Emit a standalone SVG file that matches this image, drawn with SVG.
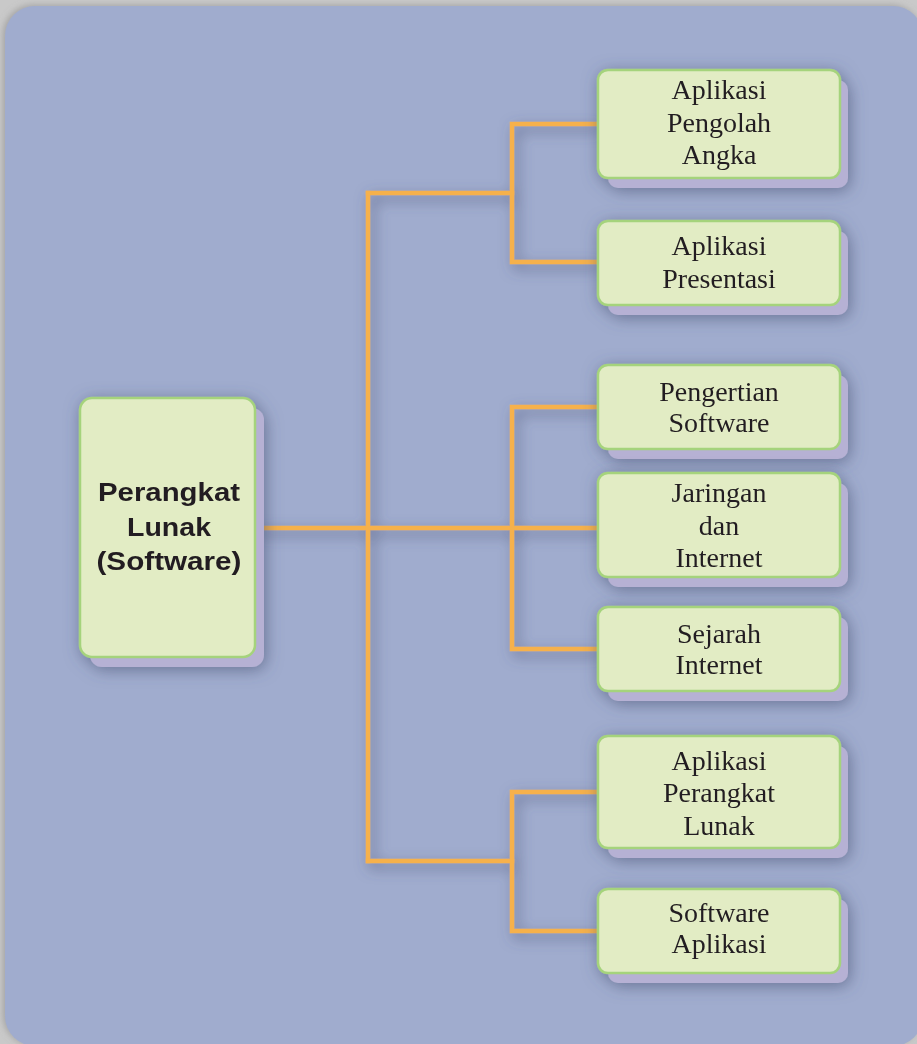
<svg xmlns="http://www.w3.org/2000/svg" width="917" height="1044" viewBox="0 0 917 1044">
<defs>
<filter id="bgsh" x="-5%" y="-5%" width="110%" height="110%">
<feDropShadow dx="-2" dy="-1" stdDeviation="3" flood-color="#8a8a8a" flood-opacity="0.6"/>
</filter>
<filter id="sh" x="-30%" y="-30%" width="160%" height="160%">
<feDropShadow dx="2" dy="3" stdDeviation="8" flood-color="#45506f" flood-opacity="0.6"/>
</filter>
<filter id="lsh" x="-30%" y="-30%" width="160%" height="160%">
<feDropShadow dx="4" dy="5" stdDeviation="7" flood-color="#45506f" flood-opacity="0.7"/>
</filter>
</defs>
<style>
.back{fill:#b6b1d4}
.box{fill:#e2ecc4;stroke:#a5d37c;stroke-width:2.5}
.lbl{font-family:"Liberation Serif","Times New Roman",serif;font-size:28px;fill:#231f20;text-anchor:middle}
.main{font-family:"Liberation Sans",Arial,sans-serif;font-weight:bold;font-size:26.5px;fill:#231f20;text-anchor:middle}
.ln{fill:none;stroke:#f6b14c;stroke-width:4.5;stroke-linecap:square}
</style>
<rect x="0" y="0" width="917" height="1044" fill="#c9c9c9"/>
<rect x="5" y="6" width="918" height="1040" rx="30" ry="30" fill="#a0acce" filter="url(#bgsh)"/>

<g id="connectors" filter="url(#lsh)">
<path class="ln" d="M257,528 H596"/>
<path class="ln" d="M368,193 V861"/>
<path class="ln" d="M368,193 H512"/>
<path class="ln" d="M596,124 H512 V262 H596"/>
<path class="ln" d="M596,407 H512 V649 H596"/>
<path class="ln" d="M368,861 H512"/>
<path class="ln" d="M596,792 H512 V931 H596"/>
</g>

<g id="node-main" filter="url(#sh)">
<rect class="back" x="90" y="408" width="174" height="259" rx="12"/>
<rect class="box" x="80" y="398" width="175" height="259" rx="12"/>
<text class="main" x="169" y="501" textLength="142" lengthAdjust="spacingAndGlyphs">Perangkat</text>
<text class="main" x="169" y="536" textLength="84" lengthAdjust="spacingAndGlyphs">Lunak</text>
<text class="main" x="169" y="570" textLength="145" lengthAdjust="spacingAndGlyphs">(Software)</text>
</g>

<g id="node-pengolah-angka" filter="url(#sh)">
<rect class="back" x="608" y="80" width="240" height="108" rx="10"/>
<rect class="box" x="598" y="70" width="242" height="108" rx="10"/>
<text class="lbl" x="719" y="99">Aplikasi</text>
<text class="lbl" x="719" y="132">Pengolah</text>
<text class="lbl" x="719" y="164">Angka</text>
</g>

<g id="node-presentasi" filter="url(#sh)">
<rect class="back" x="608" y="231" width="240" height="84" rx="10"/>
<rect class="box" x="598" y="221" width="242" height="84" rx="10"/>
<text class="lbl" x="719" y="255">Aplikasi</text>
<text class="lbl" x="719" y="288">Presentasi</text>
</g>

<g id="node-pengertian" filter="url(#sh)">
<rect class="back" x="608" y="375" width="240" height="84" rx="10"/>
<rect class="box" x="598" y="365" width="242" height="84" rx="10"/>
<text class="lbl" x="719" y="401">Pengertian</text>
<text class="lbl" x="719" y="432">Software</text>
</g>

<g id="node-jaringan" filter="url(#sh)">
<rect class="back" x="608" y="483" width="240" height="104" rx="10"/>
<rect class="box" x="598" y="473" width="242" height="104" rx="10"/>
<text class="lbl" x="719" y="502">Jaringan</text>
<text class="lbl" x="719" y="535">dan</text>
<text class="lbl" x="719" y="567">Internet</text>
</g>

<g id="node-sejarah" filter="url(#sh)">
<rect class="back" x="608" y="617" width="240" height="84" rx="10"/>
<rect class="box" x="598" y="607" width="242" height="84" rx="10"/>
<text class="lbl" x="719" y="643">Sejarah</text>
<text class="lbl" x="719" y="674">Internet</text>
</g>

<g id="node-aplikasi-perangkat-lunak" filter="url(#sh)">
<rect class="back" x="608" y="746" width="240" height="112" rx="10"/>
<rect class="box" x="598" y="736" width="242" height="112" rx="10"/>
<text class="lbl" x="719" y="770">Aplikasi</text>
<text class="lbl" x="719" y="802">Perangkat</text>
<text class="lbl" x="719" y="835">Lunak</text>
</g>

<g id="node-software-aplikasi" filter="url(#sh)">
<rect class="back" x="608" y="899" width="240" height="84" rx="10"/>
<rect class="box" x="598" y="889" width="242" height="84" rx="10"/>
<text class="lbl" x="719" y="922">Software</text>
<text class="lbl" x="719" y="953">Aplikasi</text>
</g>
</svg>
